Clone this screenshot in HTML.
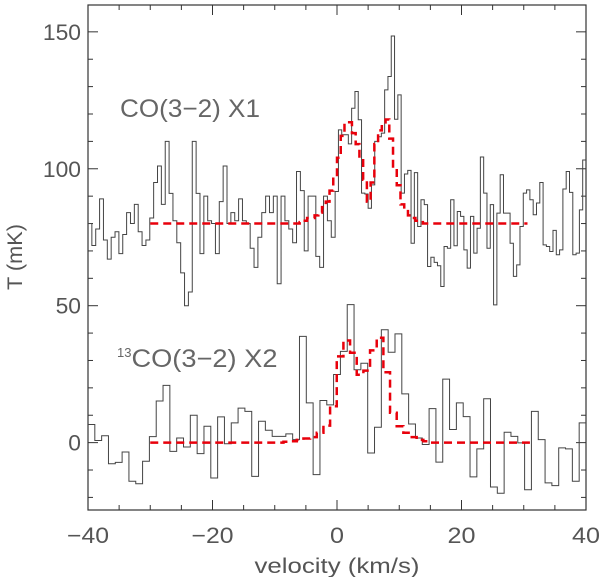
<!DOCTYPE html>
<html><head><meta charset="utf-8"><style>
html,body{margin:0;padding:0;background:#fff;}
svg{display:block;font-family:"Liberation Sans",sans-serif;}
</style></head><body>
<svg id="chart" width="600" height="577" viewBox="0 0 600 577">
<g id="axes"></g>
<g id="series"></g>
<text x="120" y="117" font-size="25" fill="#666" textLength="140" lengthAdjust="spacingAndGlyphs">CO(3−2) X1</text>
<text x="117" y="367" font-size="25" fill="#666"><tspan font-size="13" dy="-10">13</tspan><tspan dy="10" textLength="146" lengthAdjust="spacingAndGlyphs">CO(3−2) X2</tspan></text>
<text x="337" y="573" font-size="21" fill="#555" text-anchor="middle" textLength="165" lengthAdjust="spacingAndGlyphs">velocity (km/s)</text>
<text x="0" y="0" font-size="21" fill="#555" text-anchor="middle" textLength="66" lengthAdjust="spacingAndGlyphs" transform="translate(22,257) rotate(-90)">T (mK)</text>
</svg>
<script>
const xTicks=[-40,-20,0,20,40];
const xTickLabels=["−40","−20","0","20","40"];
const yTicks=[0,50,100,150];
const yTickLabels=["0","50","100","150"];
// CO(3-2) spectrum, two segments
const coLeftRange=[-40,-0.3];
const coLeft=[80,72,78,89,74,67,75,77,69,76,84,80,87,77,72,74,82,95,101,87,110,91,81,73,62,50,55,110,91,69,90,81,80,69,88,101,80,84,81,89,81,80,71,64,75,84,90,84,90,58,90,81,78,73,99,92,70,90,90,68,64,90,81,75];
const coRightRange=[-0.3,40];
const coRight=[91.7,114.2,112.4,112.4,109.1,122.1,128.2,117.9,91.1,90.8,85.6,94.1,110,111.7,113,128.8,133.7,148.5,118.1,127,91.1,98.1,99.4,72.8,98.6,78.9,88.7,86.9,64.3,67.7,65.8,64.6,57,71.6,71,88.7,71.9,84.4,82.6,70.4,63.7,82.6,69.2,78.3,104.3,91.1,71,86.9,50.3,83.8,97.8,83.8,83.8,72.8,60.7,64.9,78.9,91.1,92.3,88.7,83.2,87.5,95,72.2,71.6,69.8,77.5,68.6,70.4,92.6,99,91.4,68.6,69.2,85,103.2];
// 13CO(3-2) spectrum
const c13Range=[-40,40];
const c13=[6.6,0.8,2.5,-7.7,-7.2,-3.4,-14.1,-15,-6.8,2.2,15.2,20.9,-3.2,1.7,-1.6,10,-4,6,-12.9,9.4,-0.4,7.2,12.6,11.4,-12.3,7.8,4.5,2.3,2.3,3.2,1.1,38.8,14.5,-11.7,15.4,13.8,24.9,33.3,50.4,26.6,29,-3.8,5.6,41.2,33,39.7,17.8,6.8,1.7,-0.7,12.4,-7.1,23.2,4.8,14.5,9.5,-12.5,-2.3,16,-16.2,-18.5,3.8,2.3,-0.1,-17.2,11.4,1.1,-14.7,-15.7,-1.9,-2.3,-14.1,7.2];
// fits
const fitTopStart=-30, fitTopStep=0.6;
const fitTop=[80,80,80,80,80,80,80,80,80,80,80,80,80,80,80,80,80,80,80,80,80,80,80,80,80,80,80,80,80,80,80,80,80,80,80,80,80,80,80,80,
80.5,81,82,82,83,84,86,88,92,97,104,112,117,117,113,109,104,96,88,95,109,114,116,118,111,100,94,87,85,83,82,81,
80.5,80,80,80,80,80,80,80,80,80,80,80,80,80,80,80,80,80,80,80,80,80,80,80,80,80,80,80,80];
const fitBotStart=-30, fitBotStep=1.07;
const fitBot=[0,0,0,0,0,0,0,0,0,0,0,0,0,0,0,0,0,0,0,0,0.3,0.5,1,1.5,2,3.6,6.2,13.3,31.5,37.3,32.8,24.8,26.3,33.7,38.3,25.7,10.9,6,3.6,2,1,0.5,0,0,0,0,0,0,0,0,0,0,0,0,0,0,0];

const X0=88,X1=586,Y0=5,Y1=510,VMIN=-40,VMAX=40,TMIN=-24.6,TMAX=159.8;
const xs=v=>X0+(v-VMIN)/(VMAX-VMIN)*(X1-X0);
const ys=t=>Y1-(t-TMIN)/(TMAX-TMIN)*(Y1-Y0);
const NS="http://www.w3.org/2000/svg";
function mk(tag,attrs,parent){const e=document.createElementNS(NS,tag);for(const k in attrs)e.setAttribute(k,attrs[k]);parent.appendChild(e);return e;}
const axes=document.getElementById('axes'), series=document.getElementById('series');
const frame=mk('rect',{x:X0,y:Y0,width:X1-X0,height:Y1-Y0,fill:'none',stroke:'#333','stroke-width':1.2},axes);


for(let v=VMIN;v<=VMAX;v+=5){
  const major=(v%20===0);const L=major?10:5;const x=xs(v);
  const t1=mk('line',{x1:x,x2:x,y1:Y1,y2:Y1-L,stroke:'#333','stroke-width':1},axes);
  
  
  const t2=mk('line',{x1:x,x2:x,y1:Y0,y2:Y0+L,stroke:'#333','stroke-width':1},axes);
  
  
}
xTicks.forEach((v,i)=>{
  const lbl=xTickLabels[i];
  const t=mk('text',{x:xs(v),y:543,'font-size':22,fill:'#555','text-anchor':'middle',textLength:lbl.length*14,lengthAdjust:'spacingAndGlyphs'},axes);
  t.textContent=lbl;
  
  
});
for(let t=-20;t<=150;t+=10){
  const major=(t%50===0);const L=major?10:5;const y=ys(t);
  const a=mk('line',{x1:X0,x2:X0+L,y1:y,y2:y,stroke:'#333','stroke-width':1},axes);
  
  
  const b=mk('line',{x1:X1,x2:X1-L,y1:y,y2:y,stroke:'#333','stroke-width':1},axes);
  
  
}
yTicks.forEach((t,i)=>{
  const lbl=yTickLabels[i];
  const e=mk('text',{x:81,y:ys(t)+8,'font-size':22,fill:'#555','text-anchor':'end',textLength:lbl.length*12.7,lengthAdjust:'spacingAndGlyphs'},axes);
  e.textContent=lbl;
  
  
});
function stepPath(vals,v0,dv,scale){
  let d='';
  vals.forEach((t,i)=>{
    const xa=xs(v0+i*dv),xb=xs(v0+(i+1)*dv),y=ys(t*scale);
    d+=(i===0?'M':'L')+xa.toFixed(2)+','+y.toFixed(2)+'L'+xb.toFixed(2)+','+y.toFixed(2);
  });
  return d;
}
function rangeStep(vals,r){return (r[1]-r[0])/vals.length;}
const coPath=stepPath(coLeft,coLeftRange[0],rangeStep(coLeft,coLeftRange),1)+stepPath(coRight,coRightRange[0],rangeStep(coRight,coRightRange),1).replace(/^M/,'L');
const p1=mk('path',{d:coPath,fill:'none',stroke:'#444','stroke-width':1},series);


const p2=mk('path',{d:stepPath(c13,c13Range[0],rangeStep(c13,c13Range),1),fill:'none',stroke:'#444','stroke-width':1},series);


const f1=mk('path',{d:stepPath(fitTop,fitTopStart,fitTopStep,1),fill:'none',stroke:'#e8000b','stroke-width':2.5,'stroke-dasharray':'8,5'},series);


const f2=mk('path',{d:stepPath(fitBot,fitBotStart,fitBotStep,1),fill:'none',stroke:'#e8000b','stroke-width':2.5,'stroke-dasharray':'8,5'},series);


</script>
</body></html>
